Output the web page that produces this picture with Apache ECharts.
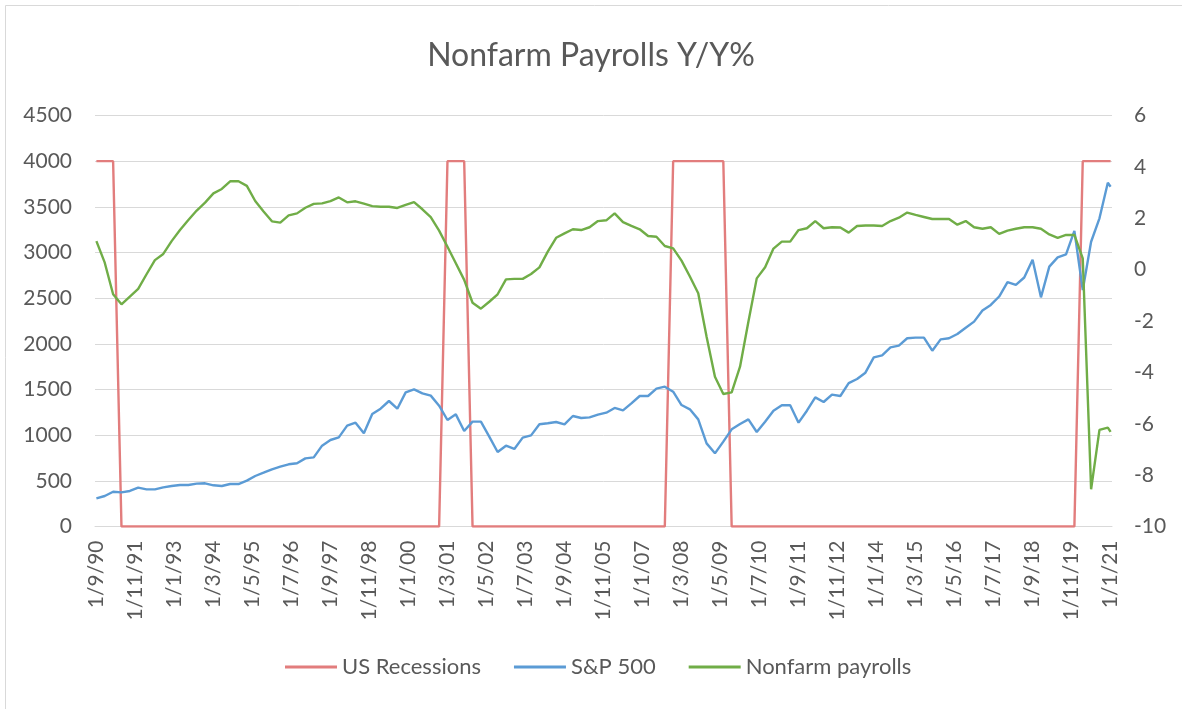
<!DOCTYPE html>
<html>
<head>
<meta charset="utf-8">
<title>Nonfarm Payrolls Y/Y%</title>
<script src="https://cdn.jsdelivr.net/npm/echarts@6/dist/echarts.min.js"></script>
<style>
  html, body { margin: 0; padding: 0; background: #fff; }
  #main { width: 1182px; height: 709px; }
</style>
</head>
<body>
<div id="main"></div>
<script>
// month axis 1/9/90 .. 1/1/21, one category per month (labels every 14 months)
var firstYear = 1990, firstMonth = 9, monthCount = 365;
var months = [];
for (var i = 0; i < monthCount; i++) {
  var mm = (firstMonth - 1 + i) % 12 + 1;
  var yy = firstYear + Math.floor((firstMonth - 1 + i) / 12);
  months.push('1/' + mm + '/' + String(yy).slice(2));
}

// points are quarter ends Sep 90 .. Dec 20, then Jan 21 (month offsets)
var pointMonths = [];
for (var q = 0; q <= 363; q += 3) pointMonths.push(q);
pointMonths.push(364);

var recessions = [
  4000, 4000, 4000, 0, 0, 0, 0, 0, 0, 0,
  0, 0, 0, 0, 0, 0, 0, 0, 0, 0,
  0, 0, 0, 0, 0, 0, 0, 0, 0, 0,
  0, 0, 0, 0, 0, 0, 0, 0, 0, 0,
  0, 0, 4000, 4000, 4000, 0, 0, 0, 0, 0,
  0, 0, 0, 0, 0, 0, 0, 0, 0, 0,
  0, 0, 0, 0, 0, 0, 0, 0, 0, 4000,
  4000, 4000, 4000, 4000, 4000, 4000, 0, 0, 0, 0,
  0, 0, 0, 0, 0, 0, 0, 0, 0, 0,
  0, 0, 0, 0, 0, 0, 0, 0, 0, 0,
  0, 0, 0, 0, 0, 0, 0, 0, 0, 0,
  0, 0, 0, 0, 0, 0, 0, 0, 4000, 4000,
  4000, 4000, 4000
];

var sp500 = [
  308, 334, 381, 374, 389, 425, 407, 407, 429, 443,
  454, 454, 469, 473, 451, 443, 465, 465, 502, 553,
  589, 626, 655, 681, 692, 746, 757, 885, 947, 976,
  1104, 1137, 1020, 1232, 1290, 1374, 1290, 1469, 1502, 1458,
  1433, 1323, 1166, 1228, 1046, 1148, 1148, 984, 816, 885,
  849, 973, 998, 1119, 1130, 1144, 1119, 1210, 1188, 1195,
  1225, 1246, 1298, 1272, 1348, 1429, 1429, 1509, 1531, 1476,
  1330, 1283, 1173, 910, 801, 929, 1064, 1122, 1173, 1035,
  1148, 1268, 1327, 1327, 1137, 1268, 1414, 1363, 1444, 1429,
  1570, 1615, 1684, 1852, 1874, 1962, 1980, 2061, 2068, 2068,
  1925, 2049, 2061, 2108, 2177, 2243, 2364, 2426, 2518, 2675,
  2646, 2726, 2920, 2509, 2845, 2947, 2980, 3236, 2589, 3118,
  3374, 3764, 3720
];

var nonfarm = [
  1.11, 0.27, -0.96, -1.35, -1.05, -0.75, -0.18, 0.37, 0.61, 1.11,
  1.54, 1.93, 2.30, 2.61, 2.97, 3.14, 3.44, 3.44, 3.26, 2.67,
  2.26, 1.88, 1.83, 2.11, 2.19, 2.41, 2.56, 2.58, 2.67, 2.81,
  2.62, 2.66, 2.57, 2.47, 2.45, 2.45, 2.40, 2.52, 2.63, 2.35,
  2.04, 1.52, 0.89, 0.25, -0.40, -1.29, -1.52, -1.25, -0.96, -0.38,
  -0.36, -0.36, -0.17, 0.09, 0.70, 1.24, 1.41, 1.57, 1.54, 1.65,
  1.89, 1.92, 2.19, 1.85, 1.70, 1.57, 1.31, 1.28, 0.92, 0.83,
  0.35, -0.27, -0.92, -2.61, -4.17, -4.84, -4.78, -3.78, -2.03, -0.34,
  0.09, 0.82, 1.09, 1.09, 1.54, 1.61, 1.89, 1.61, 1.65, 1.64,
  1.44, 1.70, 1.72, 1.72, 1.70, 1.89, 2.02, 2.22, 2.13, 2.05,
  1.97, 1.97, 1.97, 1.75, 1.89, 1.65, 1.59, 1.65, 1.39, 1.52,
  1.59, 1.65, 1.65, 1.59, 1.37, 1.24, 1.35, 1.35, 0.44, -8.55,
  -6.24, -6.15, -6.32
];

function pairs(values) {
  return pointMonths.map(function (m, i) { return [m, values[i]]; });
}

var fontName = 'Lato';
var textGrey = '#595959';
var gridGrey = '#D9D9D9';

var myChart = echarts.init(document.getElementById('main'));
var option = {
  animation: false,
  backgroundColor: '#fff',
  graphic: [{
    type: 'rect',
    silent: true,
    z: -10,
    shape: { x: 5.5, y: 5.5, width: 1200, height: 800 },
    style: { fill: 'none', stroke: gridGrey, lineWidth: 1 }
  }],
  title: {
    text: 'Nonfarm Payrolls Y/Y%',
    left: 'center',
    top: 35,
    textStyle: { fontFamily: fontName, fontSize: 32, fontWeight: 'normal', color: textGrey }
  },
  legend: {
    left: 280,
    top: 651,
    icon: 'rect',
    itemWidth: 52,
    itemHeight: 3,
    itemGap: 33,
    textStyle: { fontFamily: fontName, fontSize: 22, color: textGrey },
    data: ['US Recessions', 'S&P 500', 'Nonfarm payrolls']
  },
  grid: { left: 95, right: 70, top: 115.5, bottom: 182.5 },
  xAxis: {
    type: 'category',
    data: months,
    boundaryGap: true,
    axisLine: { lineStyle: { color: gridGrey, width: 1 } },
    axisTick: { interval: 13, length: 7, lineStyle: { color: gridGrey } },
    axisLabel: {
      interval: 13, rotate: 90, margin: 14,
      fontFamily: fontName, fontSize: 21, color: textGrey
    },
    splitLine: { show: false }
  },
  yAxis: [
    {
      type: 'value', min: 0, max: 4500, interval: 500,
      axisLine: { show: false }, axisTick: { show: false },
      axisLabel: {
        margin: 23, fontFamily: fontName, fontSize: 21, color: textGrey,
        formatter: function (v) { return String(v); }
      },
      splitLine: { lineStyle: { color: gridGrey, width: 1 } }
    },
    {
      type: 'value', min: -10, max: 6, interval: 2,
      axisLine: { show: false }, axisTick: { show: false },
      axisLabel: { margin: 22, fontFamily: fontName, fontSize: 21, color: textGrey },
      splitLine: { show: false }
    }
  ],
  series: [
    {
      name: 'US Recessions', type: 'line', yAxisIndex: 0,
      data: pairs(recessions), showSymbol: false,
      color: '#E27D7D', lineStyle: { width: 2.4 }
    },
    {
      name: 'S&P 500', type: 'line', yAxisIndex: 0,
      data: pairs(sp500), showSymbol: false,
      color: '#5B9BD5', lineStyle: { width: 2.4 }
    },
    {
      name: 'Nonfarm payrolls', type: 'line', yAxisIndex: 1,
      data: pairs(nonfarm), showSymbol: false,
      color: '#70AD47', lineStyle: { width: 2.4 }
    }
  ]
};
myChart.setOption(option);
</script>
</body>
</html>
